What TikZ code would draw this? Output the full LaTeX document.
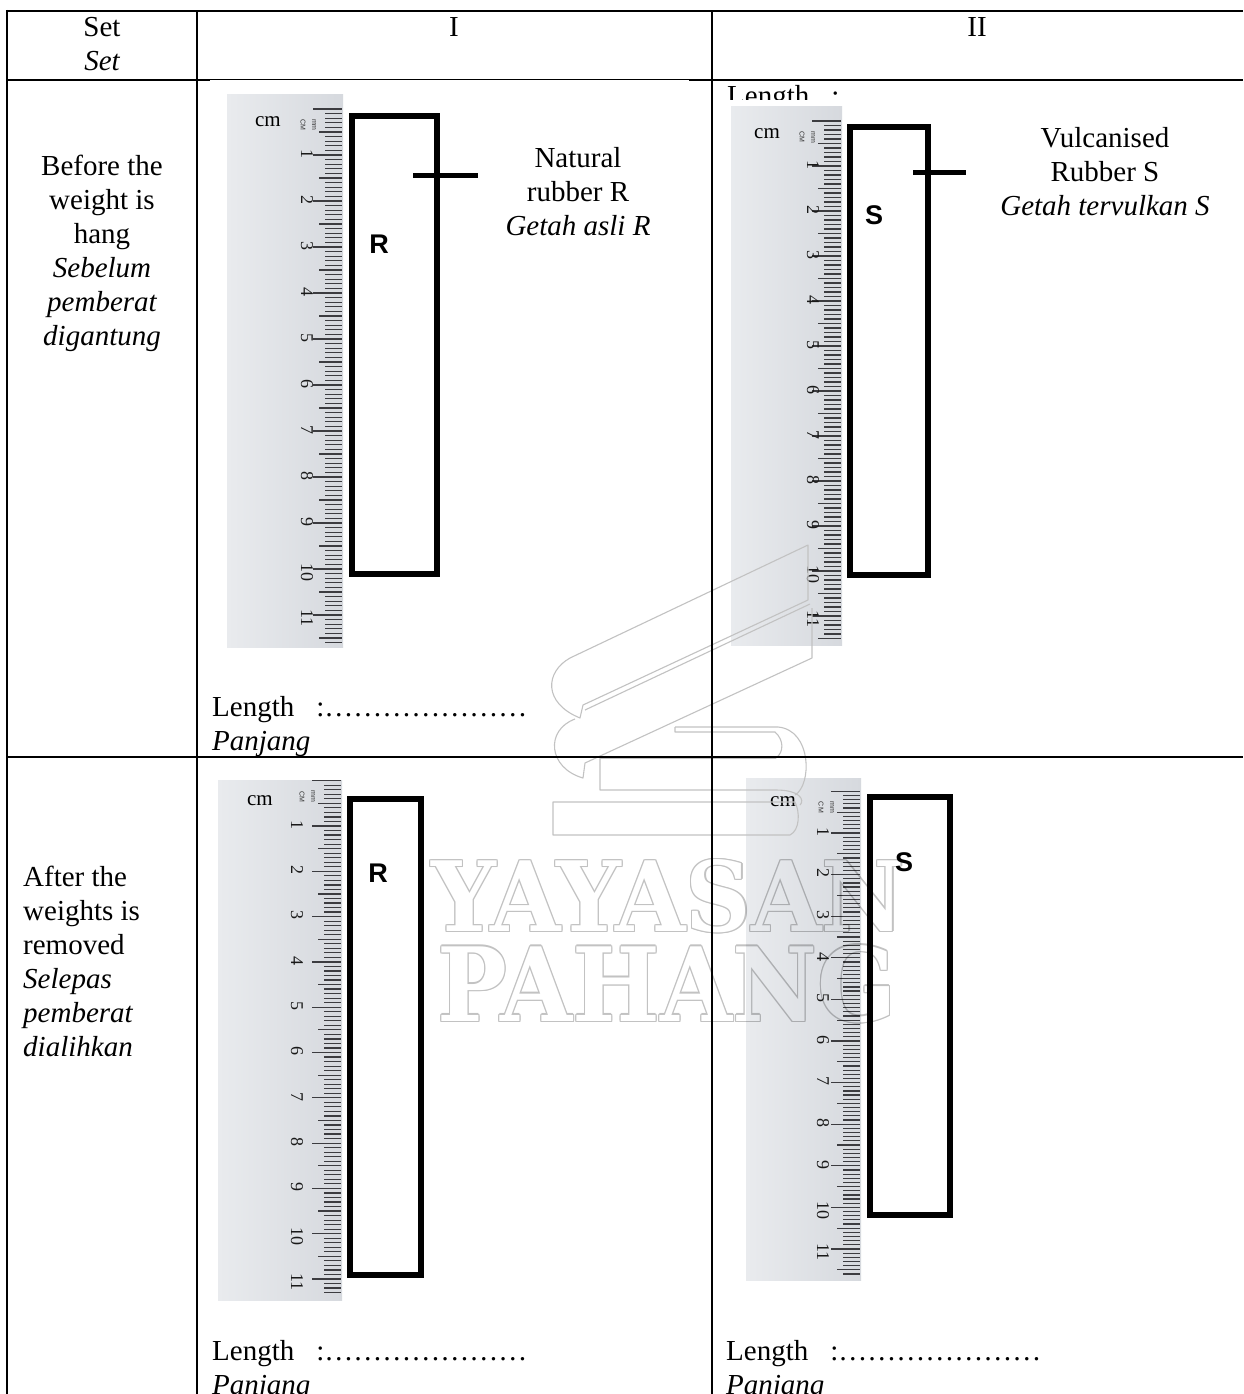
\documentclass[tikz,border=0pt]{standalone}
\usepackage{fontspec}
\setmainfont{Liberation Serif}
\newfontfamily\sansb{Liberation Sans}
\newfontfamily\wmfont{DejaVu Serif}
\usetikzlibrary{calc}
\definecolor{rulerL}{RGB}{233,235,238}
\definecolor{rulerR}{RGB}{214,217,222}
\definecolor{tickc}{RGB}{60,60,64}
\definecolor{wmgray}{RGB}{194,194,194}
\newcommand\mainsz{\fontsize{29}{34}\selectfont}
\newcommand\myrulerfont{\fontsize{18}{18}\selectfont}
\newcommand\mycmfont{\fontsize{21}{21}\selectfont}
\newcommand\myrtiny{\sansb\fontsize{7}{7}\selectfont}
% L R T B c1 s lx cmx cmy
\newcommand\myruler[9]{%
  \shade[left color=rulerL,right color=rulerR] (#1,#3) rectangle (#2,#4);
  \pgfmathsetmacro\yzero{#5-#6}%
  \pgfmathsetmacro\mmstep{#6/10}%
  \pgfmathtruncatemacro\nticks{(#4-3-\yzero)/\mmstep}%
  \foreach \i in {0,...,\nticks}{%
    \pgfmathsetmacro\yy{\yzero+\i*\mmstep}%
    \pgfmathtruncatemacro\md{mod(\i,10)}%
    \pgfmathtruncatemacro\mf{mod(\i,5)}%
    \pgfmathsetmacro\ticklen{\md==0 ? 30 : (\mf==0 ? 24 : 18)}%
    \draw[tickc,line width=1.2] (#2-\ticklen,\yy) -- (#2-1,\yy);
  }
  \foreach \k in {1,...,11}{%
    \node[rotate=-90,anchor=west,inner sep=0,font=\myrulerfont,text=black!90] (lab#1x\k) at (#7,#5+\k*#6-#6-6) {\k};
  }
  \node[font=\mycmfont,inner sep=0] (cm#1) at (#8,#9) {cm};
  \node[rotate=-90,font=\myrtiny,inner sep=0,text=black!80] (cma#1) at (#2-40,\yzero+16) {CM};
  \node[rotate=-90,font=\myrtiny,inner sep=0,text=black!80] (cmb#1) at (#2-29,\yzero+16) {mm};
}
% outlined watermark word: name, x, y, content
\newcommand\wmword[4]{%
  \begin{scope}[blend mode=multiply]
  \begin{scope}[transparency group]
  \foreach \dx/\dy [count=\c] in {-1.3/0,1.3/0,0/-1.3,0/1.3,-0.9/-0.9,0.9/-0.9,-0.9/0.9,0.9/0.9}{%
    \node[inner sep=0,text=wmgray] (#1o\c) at (#2+\dx,#3+\dy) {#4};
  }
  \node[inner sep=0,text=white] (#1) at (#2,#3) {#4};
  \end{scope}
  \end{scope}
}
\tikzset{
  tline/.style={line width=2.4},
  rubber/.style={line width=6,line join=miter},
  lenmark/.style={line width=5},
  txt/.style={anchor=base,inner sep=0,font=\mainsz},
  txtl/.style={anchor=base west,inner sep=0,font=\mainsz},
  lbl/.style={inner sep=0,font=\sansb\bfseries\fontsize{27}{27}\selectfont},
  wm/.style={draw=wmgray,line width=1.1,line join=round}
}
\begin{document}
\begin{tikzpicture}[x=1pt,y=-1pt]
\useasboundingbox (0,0) rectangle (1243,1394);
\fill[white] (0,0) rectangle (1243,1394);

% partially hidden text top right
\node[txtl] (lencut) at (727,106) {Length\hspace{22pt}:…………………};
\fill[white] (714,100) rectangle (1100,114);

% rulers
\myruler{227}{343}{95}{647}{155}{46}{307}{268}{122}
\myruler{731}{842}{107}{645}{166}{45}{813}{767}{134}
\myruler{218}{342}{780}{1300}{826}{45.3}{297}{260}{801}
\myruler{746}{861}{778}{1280}{833}{41.6}{823}{783}{802}

% watermark logo
\draw[wm] (808,545) -- (570,658) .. controls (545,672) and (543,703) .. (580,718) -- (583,705) -- (808,600) -- cycle;
\draw[wm] (585,710) -- (810,604);
\draw[wm] (812,608) -- (812,658) -- (585,763) -- (583,778) .. controls (548,768) and (545,730) .. (575,719);
\draw[wm] (675,727) -- (778,727) .. controls (812,730) and (812,785) .. (795,795);
\draw[wm] (675,727) -- (675,732) -- (775,732) .. controls (784,740) and (784,752) .. (776,758);
\draw[wm] (600,758) -- (776,758);
\draw[wm] (600,758) -- (600,790) -- (776,790) .. controls (800,790) and (805,800) .. (800,805);
\draw[wm] (553,802) -- (795,802) .. controls (800,812) and (800,830) .. (790,835) -- (553,835) -- cycle;
\wmword{wm1}{668}{896}{\resizebox{473pt}{72pt}{\wmfont\bfseries YAYASAN}}
\wmword{wm2}{667}{984}{\resizebox{459pt}{76pt}{\wmfont\bfseries PAHANG}}

% table lines
\draw[tline] (5.8,11) -- (1243,11);
\draw[tline] (7,9.8) -- (7,1394);
\draw[tline] (197,11) -- (197,1394);
\draw[tline] (712,11) -- (712,1394);
\draw[tline] (7,80) -- (1243,80);
\fill[white] (210,80.2) rectangle (689,81.5);
\draw[tline] (7,757) -- (1243,757);

% rubber strips
\draw[rubber] (352,116) rectangle (437,574);
\draw[lenmark] (413,175) -- (478,175);
\draw[rubber] (850,127) rectangle (928,575);
\draw[lenmark] (913,172) -- (966,172);
\draw[rubber] (350,799) rectangle (421,1275);
\draw[rubber] (870,797) rectangle (950,1215);
\node[lbl] (R1) at (379,244) {R};
\node[lbl] (S1) at (874,215) {S};
\node[lbl] (R2) at (378,873) {R};
\node[lbl] (S2) at (904,862) {S};

% header
\node[txt] (hset) at (102,37) {Set};
\node[txt] (hset2) at (102,71) {\itshape Set};
\node[txt] (hI) at (454,37) {I};
\node[txt] (hII) at (977,37) {II};

% row 1 label
\node[txt] (a1) at (102,175) {Before the};
\node[txt] (a2) at (102,209) {weight is};
\node[txt] (a3) at (102,243) {hang};
\node[txt] (a4) at (102,277) {\itshape Sebelum};
\node[txt] (a5) at (102,311) {\itshape pemberat};
\node[txt] (a6) at (102,345) {\itshape digantung};

% row 2 label
\node[txtl] (b1) at (23,886) {After the};
\node[txtl] (b2) at (23,920) {weights is};
\node[txtl] (b3) at (23,954) {removed};
\node[txtl] (b4) at (23,988) {\itshape Selepas};
\node[txtl] (b5) at (23,1022) {\itshape pemberat};
\node[txtl] (b6) at (23,1056) {\itshape dialihkan};

% captions
\node[txt] (n1) at (578,167) {Natural};
\node[txt] (n2) at (578,201) {rubber R};
\node[txt] (n3) at (578,235) {\itshape Getah asli R};
\node[txt] (v1) at (1105,147) {Vulcanised};
\node[txt] (v2) at (1105,181) {Rubber S};
\node[txt] (v3) at (1105,215) {\itshape Getah tervulkan S};

% lengths
\node[txtl] (l1) at (212,716) {Length\hspace{22pt}:…………………};
\node[txtl] (p1) at (212,750) {\itshape Panjang};
\node[txtl] (l2) at (212,1360) {Length\hspace{22pt}:…………………};
\node[txtl] (p2) at (212,1394) {\itshape Panjang};
\node[txtl] (l3) at (726,1360) {Length\hspace{22pt}:…………………};
\node[txtl] (p3) at (726,1394) {\itshape Panjang};
\end{tikzpicture}
\end{document}
